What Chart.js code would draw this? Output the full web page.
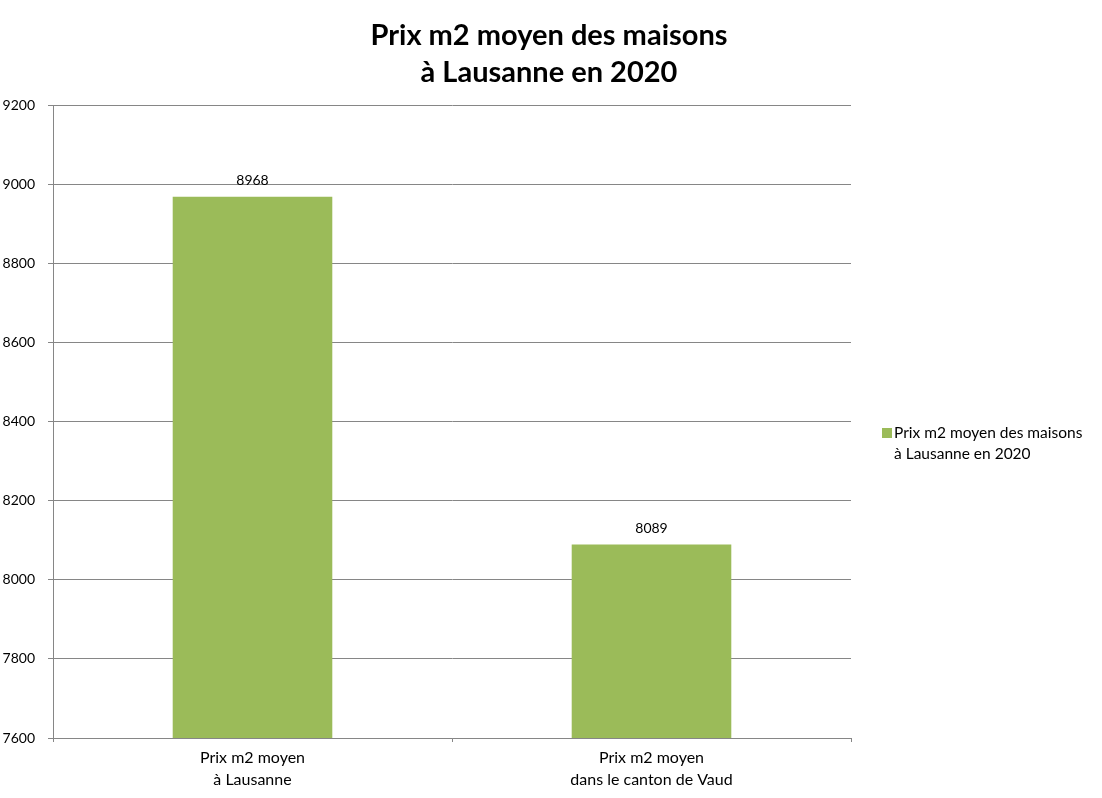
<!DOCTYPE html>
<html>
<head>
<meta charset="utf-8">
<script src="https://cdn.jsdelivr.net/npm/chart.js@4.4.1/dist/chart.umd.min.js"></script>
<style>
  html, body { margin: 0; padding: 0; background: #ffffff; }
  #wrap { width: 1102px; height: 798px; position: relative; }
</style>
</head>
<body>
<div id="wrap"><canvas id="c" width="1102" height="798"></canvas></div>
<script>
const titleLines = ["Prix m2 moyen des maisons", "à Lausanne en 2020"];
const categories = [["Prix m2 moyen", "à Lausanne"], ["Prix m2 moyen", "dans le canton de Vaud"]];
const seriesLabel = ["Prix m2 moyen des maisons", "à Lausanne en 2020"];
const values = [8968, 8089];
const yMin = 7600, yMax = 9200, yStep = 200;

const FONT = "Lato, 'Open Sans', sans-serif";
const barColor = "#9BBB59";

const overlay = {
  id: "overlay",
  afterDraw(chart) {
    const ctx = chart.ctx;
    ctx.save();
    // title
    ctx.fillStyle = "#000";
    ctx.font = "bold 29px " + FONT;
    ctx.textAlign = "center";
    ctx.textBaseline = "alphabetic";
    ctx.fillText(titleLines[0], 549, 45);
    ctx.fillText(titleLines[1], 549, 82);
    // data labels
    ctx.font = "14px " + FONT;
    const meta = chart.getDatasetMeta(0);
    meta.data.forEach((bar, i) => {
      ctx.fillText(String(values[i]), bar.x, bar.y - 12);
    });
    // legend
    ctx.fillStyle = barColor;
    ctx.fillRect(882, 428, 10, 10);
    ctx.fillStyle = "#000";
    ctx.textAlign = "left";
    ctx.font = "15.5px " + FONT;
    ctx.fillText(seriesLabel[0], 894, 438);
    ctx.fillText(seriesLabel[1], 894, 459);
    ctx.restore();
  }
};

new Chart(document.getElementById("c"), {
  type: "bar",
  data: {
    labels: categories,
    datasets: [{
      label: seriesLabel.join(" "),
      data: values,
      backgroundColor: barColor,
      borderWidth: 0,
      categoryPercentage: 1.0,
      barPercentage: 0.4
    }]
  },
  options: {
    responsive: false,
    animation: false,
    devicePixelRatio: 1,
    layout: { padding: { top: 105, right: 251, bottom: 0, left: 0 } },
    plugins: { legend: { display: false }, title: { display: false }, tooltip: { enabled: false } },
    scales: {
      x: {
        afterFit(s) { s.height = 60; },
        grid: { display: true, drawOnChartArea: false, drawTicks: true, tickLength: 4, offset: true, color: "#868686" },
        border: { display: true, color: "#868686" },
        ticks: { color: "#000", font: { family: FONT, size: 16, lineHeight: 1.375 }, padding: 5, maxRotation: 0, autoSkip: false }
      },
      y: {
        min: yMin, max: yMax,
        afterFit(s) { s.width = 53; },
        grid: { color: "#868686", tickLength: 5, drawTicks: true },
        border: { display: true, color: "#868686" },
        ticks: { stepSize: yStep, color: "#000", font: { family: FONT, size: 14 }, padding: 13,
                 callback: (v) => String(v) }
      }
    }
  },
  plugins: [overlay]
});
</script>
</body>
</html>
